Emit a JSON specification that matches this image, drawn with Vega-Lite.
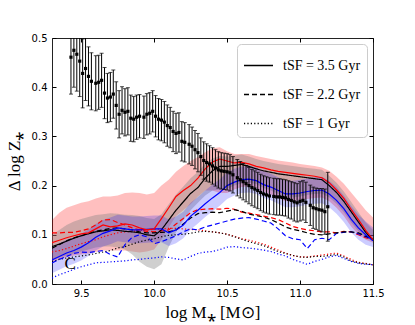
{
"$schema":"https://vega.github.io/schema/vega-lite/v6.json",
"width":321,"height":246,
"autosize":{"type":"none"},
"padding":{"left":52,"top":38,"right":42,"bottom":41},
"background":"white",
"config":{"view":{"stroke":"#222","strokeWidth":1},"font":"DejaVu Sans"},
"resolve":{"axis":{"x":"independent","y":"independent"}},
"datasets":{
"L":[
{"x":9.30,"rs":0.084,"ks":0.076,"bs":0.049,"rd":0.104,"kd":0.073,"bd":0.043,"ro":0.065,"ko":0.045,"bo":0.012,"rl":0.045,"rh":0.130,"kl":0.050,"kh":0.100,"bl":0.022,"bh":0.076},
{"x":9.35,"rs":0.089,"ks":0.081,"bs":0.056,"rd":0.104,"kd":0.080,"bd":0.050,"ro":0.068,"ko":0.050,"bo":0.019,"rl":0.050,"rh":0.145,"kl":0.054,"kh":0.110,"bl":0.029,"bh":0.083},
{"x":9.40,"rs":0.094,"ks":0.087,"bs":0.063,"rd":0.105,"kd":0.088,"bd":0.056,"ro":0.072,"ko":0.053,"bo":0.024,"rl":0.055,"rh":0.155,"kl":0.058,"kh":0.120,"bl":0.036,"bh":0.090},
{"x":9.45,"rs":0.098,"ks":0.093,"bs":0.068,"rd":0.105,"kd":0.094,"bd":0.062,"ro":0.077,"ko":0.055,"bo":0.030,"rl":0.058,"rh":0.160,"kl":0.062,"kh":0.127,"bl":0.041,"bh":0.095},
{"x":9.50,"rs":0.102,"ks":0.098,"bs":0.075,"rd":0.108,"kd":0.098,"bd":0.065,"ro":0.082,"ko":0.057,"bo":0.035,"rl":0.060,"rh":0.165,"kl":0.066,"kh":0.132,"bl":0.048,"bh":0.102},
{"x":9.55,"rs":0.104,"ks":0.102,"bs":0.084,"rd":0.112,"kd":0.103,"bd":0.064,"ro":0.086,"ko":0.059,"bo":0.039,"rl":0.062,"rh":0.168,"kl":0.070,"kh":0.136,"bl":0.057,"bh":0.111},
{"x":9.60,"rs":0.112,"ks":0.106,"bs":0.095,"rd":0.120,"kd":0.107,"bd":0.066,"ro":0.090,"ko":0.062,"bo":0.043,"rl":0.065,"rh":0.174,"kl":0.074,"kh":0.140,"bl":0.068,"bh":0.122},
{"x":9.65,"rs":0.120,"ks":0.108,"bs":0.103,"rd":0.130,"kd":0.110,"bd":0.068,"ro":0.096,"ko":0.065,"bo":0.044,"rl":0.068,"rh":0.178,"kl":0.076,"kh":0.142,"bl":0.076,"bh":0.130},
{"x":9.70,"rs":0.116,"ks":0.110,"bs":0.108,"rd":0.131,"kd":0.113,"bd":0.060,"ro":0.100,"ko":0.068,"bo":0.045,"rl":0.068,"rh":0.178,"kl":0.076,"kh":0.144,"bl":0.081,"bh":0.135},
{"x":9.75,"rs":0.118,"ks":0.109,"bs":0.114,"rd":0.125,"kd":0.114,"bd":0.055,"ro":0.104,"ko":0.073,"bo":0.046,"rl":0.068,"rh":0.180,"kl":0.074,"kh":0.143,"bl":0.087,"bh":0.141},
{"x":9.80,"rs":0.122,"ks":0.107,"bs":0.112,"rd":0.120,"kd":0.112,"bd":0.080,"ro":0.106,"ko":0.076,"bo":0.047,"rl":0.068,"rh":0.185,"kl":0.070,"kh":0.141,"bl":0.085,"bh":0.139},
{"x":9.85,"rs":0.120,"ks":0.106,"bs":0.110,"rd":0.114,"kd":0.110,"bd":0.095,"ro":0.107,"ko":0.081,"bo":0.049,"rl":0.066,"rh":0.186,"kl":0.060,"kh":0.140,"bl":0.083,"bh":0.137},
{"x":9.90,"rs":0.114,"ks":0.104,"bs":0.110,"rd":0.110,"kd":0.106,"bd":0.100,"ro":0.109,"ko":0.086,"bo":0.050,"rl":0.064,"rh":0.185,"kl":0.045,"kh":0.138,"bl":0.083,"bh":0.137},
{"x":9.95,"rs":0.110,"ks":0.100,"bs":0.111,"rd":0.107,"kd":0.104,"bd":0.096,"ro":0.110,"ko":0.089,"bo":0.052,"rl":0.066,"rh":0.182,"kl":0.035,"kh":0.134,"bl":0.084,"bh":0.138},
{"x":10.00,"rs":0.112,"ks":0.098,"bs":0.112,"rd":0.106,"kd":0.104,"bd":0.082,"ro":0.111,"ko":0.092,"bo":0.053,"rl":0.070,"rh":0.185,"kl":0.030,"kh":0.132,"bl":0.085,"bh":0.139},
{"x":10.05,"rs":0.133,"ks":0.110,"bs":0.112,"rd":0.108,"kd":0.105,"bd":0.086,"ro":0.112,"ko":0.096,"bo":0.055,"rl":0.090,"rh":0.200,"kl":0.040,"kh":0.142,"bl":0.085,"bh":0.139},
{"x":10.10,"rs":0.155,"ks":0.130,"bs":0.104,"rd":0.110,"kd":0.106,"bd":0.092,"ro":0.113,"ko":0.099,"bo":0.054,"rl":0.115,"rh":0.212,"kl":0.075,"kh":0.162,"bl":0.077,"bh":0.131},
{"x":10.15,"rs":0.178,"ks":0.150,"bs":0.110,"rd":0.122,"kd":0.110,"bd":0.098,"ro":0.113,"ko":0.100,"bo":0.051,"rl":0.138,"rh":0.228,"kl":0.105,"kh":0.182,"bl":0.083,"bh":0.137},
{"x":10.20,"rs":0.190,"ks":0.167,"bs":0.120,"rd":0.133,"kd":0.122,"bd":0.106,"ro":0.112,"ko":0.101,"bo":0.049,"rl":0.150,"rh":0.240,"kl":0.130,"kh":0.198,"bl":0.093,"bh":0.147},
{"x":10.25,"rs":0.200,"ks":0.184,"bs":0.138,"rd":0.145,"kd":0.134,"bd":0.112,"ro":0.111,"ko":0.103,"bo":0.056,"rl":0.162,"rh":0.250,"kl":0.150,"kh":0.215,"bl":0.111,"bh":0.165},
{"x":10.30,"rs":0.215,"ks":0.196,"bs":0.150,"rd":0.151,"kd":0.143,"bd":0.110,"ro":0.110,"ko":0.106,"bo":0.062,"rl":0.178,"rh":0.258,"kl":0.165,"kh":0.228,"bl":0.123,"bh":0.177},
{"x":10.35,"rs":0.234,"ks":0.215,"bs":0.163,"rd":0.152,"kd":0.145,"bd":0.116,"ro":0.108,"ko":0.107,"bo":0.065,"rl":0.190,"rh":0.268,"kl":0.180,"kh":0.245,"bl":0.136,"bh":0.190},
{"x":10.40,"rs":0.248,"ks":0.230,"bs":0.175,"rd":0.153,"kd":0.146,"bd":0.120,"ro":0.106,"ko":0.106,"bo":0.066,"rl":0.190,"rh":0.276,"kl":0.190,"kh":0.255,"bl":0.148,"bh":0.202},
{"x":10.45,"rs":0.254,"ks":0.239,"bs":0.186,"rd":0.152,"kd":0.145,"bd":0.124,"ro":0.104,"ko":0.104,"bo":0.070,"rl":0.185,"rh":0.278,"kl":0.192,"kh":0.260,"bl":0.159,"bh":0.213},
{"x":10.50,"rs":0.250,"ks":0.239,"bs":0.200,"rd":0.154,"kd":0.148,"bd":0.128,"ro":0.101,"ko":0.101,"bo":0.075,"rl":0.185,"rh":0.270,"kl":0.193,"kh":0.259,"bl":0.173,"bh":0.227},
{"x":10.55,"rs":0.246,"ks":0.241,"bs":0.207,"rd":0.152,"kd":0.151,"bd":0.132,"ro":0.097,"ko":0.096,"bo":0.076,"rl":0.192,"rh":0.264,"kl":0.200,"kh":0.261,"bl":0.180,"bh":0.234},
{"x":10.60,"rs":0.247,"ks":0.243,"bs":0.212,"rd":0.146,"kd":0.148,"bd":0.134,"ro":0.092,"ko":0.091,"bo":0.074,"rl":0.197,"rh":0.264,"kl":0.205,"kh":0.263,"bl":0.185,"bh":0.239},
{"x":10.65,"rs":0.244,"ks":0.239,"bs":0.213,"rd":0.144,"kd":0.142,"bd":0.135,"ro":0.089,"ko":0.086,"bo":0.073,"rl":0.198,"rh":0.264,"kl":0.206,"kh":0.259,"bl":0.186,"bh":0.240},
{"x":10.70,"rs":0.239,"ks":0.234,"bs":0.210,"rd":0.141,"kd":0.139,"bd":0.132,"ro":0.085,"ko":0.082,"bo":0.071,"rl":0.195,"rh":0.260,"kl":0.203,"kh":0.254,"bl":0.183,"bh":0.237},
{"x":10.75,"rs":0.236,"ks":0.230,"bs":0.202,"rd":0.138,"kd":0.136,"bd":0.128,"ro":0.081,"ko":0.078,"bo":0.069,"rl":0.187,"rh":0.257,"kl":0.195,"kh":0.250,"bl":0.175,"bh":0.229},
{"x":10.80,"rs":0.232,"ks":0.227,"bs":0.197,"rd":0.135,"kd":0.131,"bd":0.124,"ro":0.075,"ko":0.072,"bo":0.066,"rl":0.182,"rh":0.254,"kl":0.190,"kh":0.247,"bl":0.170,"bh":0.224},
{"x":10.85,"rs":0.229,"ks":0.224,"bs":0.190,"rd":0.131,"kd":0.124,"bd":0.112,"ro":0.069,"ko":0.066,"bo":0.061,"rl":0.175,"rh":0.251,"kl":0.183,"kh":0.244,"bl":0.163,"bh":0.217},
{"x":10.90,"rs":0.227,"ks":0.222,"bs":0.183,"rd":0.124,"kd":0.116,"bd":0.098,"ro":0.063,"ko":0.062,"bo":0.057,"rl":0.168,"rh":0.249,"kl":0.176,"kh":0.242,"bl":0.156,"bh":0.210},
{"x":10.95,"rs":0.225,"ks":0.220,"bs":0.183,"rd":0.117,"kd":0.111,"bd":0.092,"ro":0.058,"ko":0.058,"bo":0.050,"rl":0.168,"rh":0.247,"kl":0.176,"kh":0.240,"bl":0.156,"bh":0.210},
{"x":11.00,"rs":0.223,"ks":0.218,"bs":0.185,"rd":0.113,"kd":0.108,"bd":0.090,"ro":0.055,"ko":0.055,"bo":0.045,"rl":0.170,"rh":0.244,"kl":0.178,"kh":0.238,"bl":0.158,"bh":0.212},
{"x":11.05,"rs":0.221,"ks":0.216,"bs":0.188,"rd":0.110,"kd":0.104,"bd":0.072,"ro":0.055,"ko":0.054,"bo":0.040,"rl":0.173,"rh":0.242,"kl":0.181,"kh":0.236,"bl":0.161,"bh":0.215},
{"x":11.10,"rs":0.219,"ks":0.214,"bs":0.190,"rd":0.108,"kd":0.101,"bd":0.090,"ro":0.057,"ko":0.056,"bo":0.046,"rl":0.175,"rh":0.240,"kl":0.183,"kh":0.234,"bl":0.163,"bh":0.217},
{"x":11.15,"rs":0.216,"ks":0.212,"bs":0.191,"rd":0.106,"kd":0.100,"bd":0.093,"ro":0.059,"ko":0.056,"bo":0.050,"rl":0.176,"rh":0.237,"kl":0.184,"kh":0.232,"bl":0.164,"bh":0.218},
{"x":11.20,"rs":0.206,"ks":0.200,"bs":0.183,"rd":0.106,"kd":0.102,"bd":0.090,"ro":0.061,"ko":0.058,"bo":0.055,"rl":0.168,"rh":0.230,"kl":0.176,"kh":0.220,"bl":0.156,"bh":0.210},
{"x":11.25,"rs":0.191,"ks":0.186,"bs":0.170,"rd":0.104,"kd":0.104,"bd":0.103,"ro":0.063,"ko":0.060,"bo":0.058,"rl":0.155,"rh":0.218,"kl":0.163,"kh":0.206,"bl":0.143,"bh":0.197},
{"x":11.30,"rs":0.174,"ks":0.168,"bs":0.153,"rd":0.107,"kd":0.106,"bd":0.105,"ro":0.057,"ko":0.055,"bo":0.052,"rl":0.138,"rh":0.204,"kl":0.146,"kh":0.188,"bl":0.126,"bh":0.180},
{"x":11.35,"rs":0.152,"ks":0.147,"bs":0.132,"rd":0.106,"kd":0.106,"bd":0.106,"ro":0.050,"ko":0.047,"bo":0.046,"rl":0.117,"rh":0.186,"kl":0.125,"kh":0.167,"bl":0.105,"bh":0.159},
{"x":11.40,"rs":0.131,"ks":0.126,"bs":0.114,"rd":0.100,"kd":0.104,"bd":0.102,"ro":0.044,"ko":0.043,"bo":0.042,"rl":0.100,"rh":0.168,"kl":0.107,"kh":0.146,"bl":0.090,"bh":0.141},
{"x":11.45,"rs":0.109,"ks":0.105,"bs":0.100,"rd":0.094,"kd":0.097,"bd":0.096,"ro":0.042,"ko":0.041,"bo":0.040,"rl":0.090,"rh":0.150,"kl":0.093,"kh":0.125,"bl":0.080,"bh":0.127},
{"x":11.50,"rs":0.090,"ks":0.088,"bs":0.088,"rd":0.090,"kd":0.092,"bd":0.090,"ro":0.039,"ko":0.039,"bo":0.039,"rl":0.084,"rh":0.135,"kl":0.088,"kh":0.110,"bl":0.075,"bh":0.115}
],
"O":[
{"x":9.43,"y":0.461,"e":0.075},{"x":9.45,"y":0.475,"e":0.075},{"x":9.47,"y":0.467,"e":0.075},{"x":9.49,"y":0.453,"e":0.072},
{"x":9.51,"y":0.428,"e":0.070},{"x":9.53,"y":0.438,"e":0.065},{"x":9.55,"y":0.422,"e":0.060},{"x":9.57,"y":0.412,"e":0.058},
{"x":9.60,"y":0.408,"e":0.056},{"x":9.62,"y":0.410,"e":0.055},{"x":9.64,"y":0.414,"e":0.055},{"x":9.66,"y":0.388,"e":0.052},
{"x":9.68,"y":0.378,"e":0.050},{"x":9.70,"y":0.380,"e":0.050},{"x":9.72,"y":0.386,"e":0.049},{"x":9.74,"y":0.363,"e":0.048},
{"x":9.76,"y":0.345,"e":0.048},{"x":9.78,"y":0.353,"e":0.048},{"x":9.80,"y":0.349,"e":0.048},{"x":9.82,"y":0.351,"e":0.048},
{"x":9.84,"y":0.337,"e":0.047},{"x":9.86,"y":0.335,"e":0.046},{"x":9.88,"y":0.339,"e":0.045},{"x":9.90,"y":0.341,"e":0.044},
{"x":9.93,"y":0.339,"e":0.043},{"x":9.95,"y":0.345,"e":0.042},{"x":9.97,"y":0.347,"e":0.042},{"x":9.99,"y":0.351,"e":0.042},
{"x":10.01,"y":0.341,"e":0.042},{"x":10.03,"y":0.335,"e":0.042},{"x":10.05,"y":0.333,"e":0.042},{"x":10.07,"y":0.329,"e":0.042},
{"x":10.09,"y":0.322,"e":0.042},{"x":10.11,"y":0.318,"e":0.041},{"x":10.13,"y":0.310,"e":0.041},{"x":10.15,"y":0.306,"e":0.041},
{"x":10.17,"y":0.308,"e":0.040},{"x":10.19,"y":0.290,"e":0.040},{"x":10.21,"y":0.288,"e":0.040},{"x":10.24,"y":0.284,"e":0.040},
{"x":10.26,"y":0.280,"e":0.039},{"x":10.28,"y":0.273,"e":0.039},{"x":10.30,"y":0.267,"e":0.039},{"x":10.32,"y":0.259,"e":0.038},
{"x":10.34,"y":0.251,"e":0.038},{"x":10.36,"y":0.247,"e":0.038},{"x":10.38,"y":0.244,"e":0.037},{"x":10.40,"y":0.240,"e":0.037},
{"x":10.42,"y":0.236,"e":0.037},{"x":10.44,"y":0.232,"e":0.037},{"x":10.46,"y":0.230,"e":0.037},{"x":10.48,"y":0.229,"e":0.037},
{"x":10.50,"y":0.228,"e":0.037},{"x":10.52,"y":0.226,"e":0.037},{"x":10.54,"y":0.222,"e":0.037},{"x":10.57,"y":0.216,"e":0.037},
{"x":10.59,"y":0.212,"e":0.037},{"x":10.61,"y":0.208,"e":0.037},{"x":10.63,"y":0.204,"e":0.037},{"x":10.65,"y":0.200,"e":0.037},
{"x":10.67,"y":0.196,"e":0.037},{"x":10.69,"y":0.193,"e":0.037},{"x":10.71,"y":0.190,"e":0.037},{"x":10.73,"y":0.186,"e":0.037},
{"x":10.75,"y":0.183,"e":0.037},{"x":10.77,"y":0.181,"e":0.037},{"x":10.79,"y":0.179,"e":0.037},{"x":10.82,"y":0.178,"e":0.037},
{"x":10.84,"y":0.177,"e":0.037},{"x":10.86,"y":0.177,"e":0.037},{"x":10.88,"y":0.176,"e":0.037},{"x":10.90,"y":0.175,"e":0.037},
{"x":10.92,"y":0.172,"e":0.038},{"x":10.94,"y":0.170,"e":0.038},{"x":10.96,"y":0.167,"e":0.039},{"x":10.98,"y":0.165,"e":0.039},
{"x":11.00,"y":0.168,"e":0.040},{"x":11.02,"y":0.170,"e":0.040},{"x":11.04,"y":0.166,"e":0.041},{"x":11.07,"y":0.160,"e":0.041},
{"x":11.09,"y":0.155,"e":0.042},{"x":11.11,"y":0.153,"e":0.042},{"x":11.13,"y":0.151,"e":0.043},{"x":11.15,"y":0.150,"e":0.044},
{"x":11.17,"y":0.147,"e":0.046},{"x":11.19,"y":0.157,"e":0.070}
],
"T":[{"x":9.425,"y":0.041,"t":"C"}]
},
"encoding":{"x":{"field":"x","type":"quantitative","scale":{"domain":[9.3,11.5],"nice":false,"zero":false},"axis":null}},
"layer":[
{"data":{"name":"L"},"mark":{"type":"area","color":"#ff0000","opacity":0.25,"clip":true},
 "encoding":{
  "x":{"field":"x","type":"quantitative","scale":{"domain":[9.3,11.5],"nice":false,"zero":false},
       "axis":{"values":[9.5,10,10.5,11,11.5],"format":".1f","title":"log M⁎ [M⊙]","tickSize":-4,"domain":false,"grid":false,"labelFlush":false,"labelOverlap":false,
               "labelFont":"DejaVu Sans","labelFontSize":10,"labelColor":"black","labelPadding":8,"tickColor":"black",
               "titleFont":"Liberation Serif","titleFontSize":17,"titleFontWeight":"normal","titleColor":"black","titlePadding":6}},
  "y":{"field":"rl","type":"quantitative","scale":{"domain":[0,0.5]},
       "axis":{"values":[0,0.1,0.2,0.3,0.4,0.5],"format":".1f","title":"Δ log Z⁎","tickSize":-4,"domain":false,"grid":false,"labelOverlap":false,
               "labelFont":"DejaVu Sans","labelFontSize":10,"labelColor":"black","labelPadding":9,"tickColor":"black",
               "titleFont":"Liberation Serif","titleFontSize":17,"titleFontWeight":"normal","titleColor":"black","titlePadding":8}},
  "y2":{"field":"rh"}}},
{"data":{"name":"L"},"mark":{"type":"area","color":"#808080","opacity":0.38,"clip":true},
 "encoding":{"y":{"field":"kl","type":"quantitative","scale":{"domain":[0,0.5]},"axis":null},"y2":{"field":"kh"}}},
{"data":{"name":"L"},"mark":{"type":"area","color":"#0000ff","opacity":0.2,"clip":true},
 "encoding":{"y":{"field":"bl","type":"quantitative","scale":{"domain":[0,0.5]},"axis":null},"y2":{"field":"bh"}}},
{"data":{"name":"L"},"mark":{"type":"line","color":"#ff0000","strokeWidth":1.2,"strokeDash":[1.2,2.2],"clip":true},
 "encoding":{"y":{"field":"ro","type":"quantitative","scale":{"domain":[0,0.5]},"axis":null}}},
{"data":{"name":"L"},"mark":{"type":"line","color":"#0000ff","strokeWidth":1.2,"strokeDash":[1.2,2.2],"clip":true},
 "encoding":{"y":{"field":"bo","type":"quantitative","scale":{"domain":[0,0.5]},"axis":null}}},
{"data":{"name":"L"},"mark":{"type":"line","color":"#000000","strokeWidth":1.2,"clip":true},
 "encoding":{"y":{"field":"ko","type":"quantitative","scale":{"domain":[0,0.5]},"axis":null},
  "strokeDash":{"datum":"tSF = 1 Gyr","type":"nominal"}}},
{"data":{"name":"L"},"mark":{"type":"line","color":"#ff0000","strokeWidth":1.2,"strokeDash":[5,3],"clip":true},
 "encoding":{"y":{"field":"rd","type":"quantitative","scale":{"domain":[0,0.5]},"axis":null}}},
{"data":{"name":"L"},"mark":{"type":"line","color":"#0000ff","strokeWidth":1.2,"strokeDash":[5,3],"clip":true},
 "encoding":{"y":{"field":"bd","type":"quantitative","scale":{"domain":[0,0.5]},"axis":null}}},
{"data":{"name":"L"},"mark":{"type":"line","color":"#000000","strokeWidth":1.2,"clip":true},
 "encoding":{"y":{"field":"kd","type":"quantitative","scale":{"domain":[0,0.5]},"axis":null},
  "strokeDash":{"datum":"tSF = 2.2 Gyr","type":"nominal"}}},
{"data":{"name":"L"},"mark":{"type":"line","color":"#000000","strokeWidth":1.2,"clip":true},
 "encoding":{"y":{"field":"ks","type":"quantitative","scale":{"domain":[0,0.5]},"axis":null},
  "strokeDash":{"datum":"tSF = 3.5 Gyr","type":"nominal",
   "scale":{"domain":["tSF = 3.5 Gyr","tSF = 2.2 Gyr","tSF = 1 Gyr"],"range":[[1,0],[5,3],[1.2,2.2]]},
   "legend":{"title":null,"orient":"top-right","offset":6,"padding":6,"fillColor":"rgba(255,255,255,0.85)","strokeColor":"#cccccc","cornerRadius":4,
     "symbolType":"stroke","symbolSize":841,"symbolStrokeWidth":1.4,"symbolStrokeColor":"black",
     "labelFont":"Liberation Serif","labelFontSize":14,"labelColor":"black","rowPadding":6,"labelOffset":9}}}},
{"data":{"name":"L"},"mark":{"type":"line","color":"#0000ff","strokeWidth":1.2,"clip":true},
 "encoding":{"y":{"field":"bs","type":"quantitative","scale":{"domain":[0,0.5]},"axis":null}}},
{"data":{"name":"L"},"mark":{"type":"line","color":"#ff0000","strokeWidth":1.2,"clip":true},
 "encoding":{"y":{"field":"rs","type":"quantitative","scale":{"domain":[0,0.5]},"axis":null}}},
{"data":{"name":"O"},"mark":{"type":"errorbar","color":"black","thickness":1,"clip":true,"ticks":{"size":4,"thickness":1,"color":"black"}},
 "encoding":{"y":{"field":"y","type":"quantitative","scale":{"domain":[0,0.5]},"axis":null},"yError":{"field":"e"}}},
{"data":{"name":"O"},"mark":{"type":"square","color":"black","size":10,"opacity":1,"filled":true,"clip":true},
 "encoding":{"y":{"field":"y","type":"quantitative","scale":{"domain":[0,0.5]},"axis":null}}},
{"data":{"name":"T"},"mark":{"type":"text","font":"Liberation Serif","fontSize":17,"color":"black"},
 "encoding":{
  "x":{"field":"x","type":"quantitative","scale":{"domain":[9.3,11.5],"nice":false,"zero":false},
       "axis":{"orient":"top","values":[9.5,10,10.5,11,11.5],"labels":false,"title":null,"tickSize":-4,"domain":false,"grid":false,"tickColor":"black"}},
  "y":{"field":"y","type":"quantitative","scale":{"domain":[0,0.5]},
       "axis":{"orient":"right","values":[0,0.1,0.2,0.3,0.4,0.5],"labels":false,"title":null,"tickSize":-4,"domain":false,"grid":false,"tickColor":"black"}},
  "text":{"field":"t"}}}
]
}
